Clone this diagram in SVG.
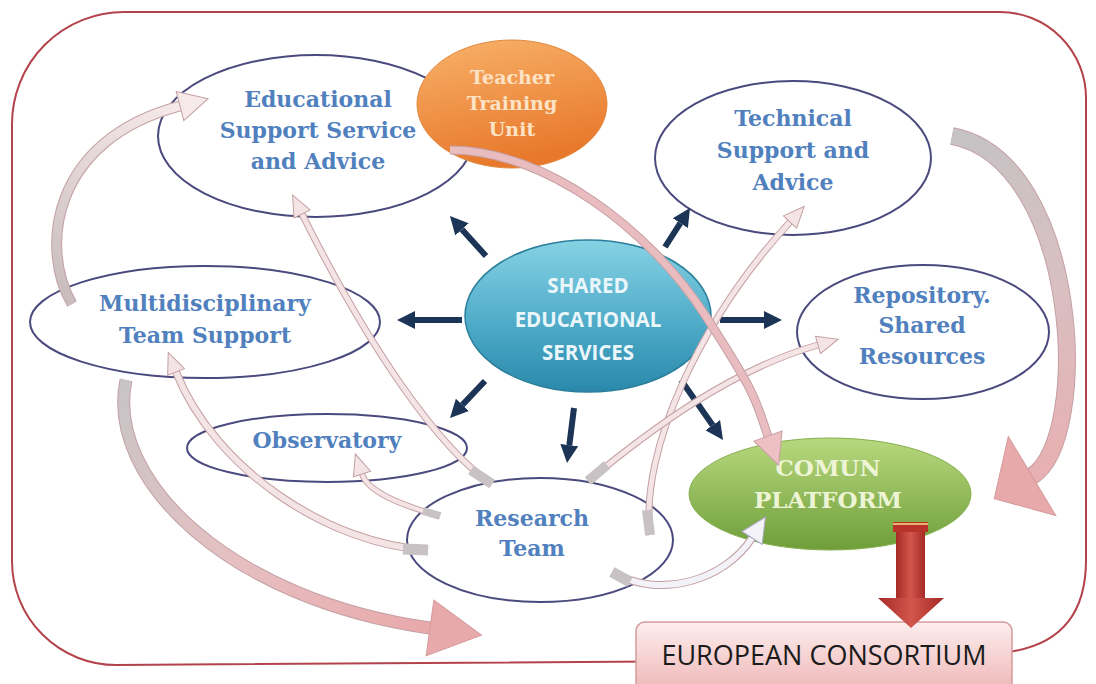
<svg xmlns="http://www.w3.org/2000/svg" width="1096" height="684" viewBox="0 0 1096 684">
<defs>
<style>
.nd{fill:none;stroke:#4b4a7e;stroke-width:2}
.lb{font-family:"DejaVu Serif","Liberation Serif",serif;font-weight:bold;font-size:22px;fill:#5080bd;text-anchor:middle}
.nv{fill:none;stroke:#1c3557;stroke-width:6;marker-end:url(#mn)}
.o{fill:none;stroke:#c4a0a4;stroke-linecap:butt}
.i{fill:none;stroke-linecap:butt}
.tl{fill:none;stroke:#c8c2c4;stroke-linecap:butt}
</style>
<linearGradient id="gOr" x1="0" y1="0" x2="0.3" y2="1"><stop offset="0" stop-color="#f8b26a"/><stop offset="1" stop-color="#e8792c"/></linearGradient>
<linearGradient id="gTe" x1="0" y1="0" x2="0" y2="1"><stop offset="0" stop-color="#86d2e4"/><stop offset="0.6" stop-color="#4aa8c6"/><stop offset="1" stop-color="#2a88aa"/></linearGradient>
<linearGradient id="gGr" x1="0" y1="0" x2="0" y2="1"><stop offset="0" stop-color="#b8d87e"/><stop offset="1" stop-color="#6e9e3a"/></linearGradient>
<linearGradient id="gEu" x1="0" y1="0" x2="0" y2="1"><stop offset="0" stop-color="#fdeeee"/><stop offset="1" stop-color="#efb6b6"/></linearGradient>
<linearGradient id="gRd" x1="0" y1="0" x2="1" y2="0"><stop offset="0" stop-color="#a52a26"/><stop offset="0.5" stop-color="#d2564c"/><stop offset="1" stop-color="#a52a26"/></linearGradient>
<linearGradient id="gA" gradientUnits="userSpaceOnUse" x1="72" y1="304" x2="180" y2="106"><stop offset="0" stop-color="#c9bcbe"/><stop offset="1" stop-color="#f5e9ea"/></linearGradient>
<linearGradient id="gD" gradientUnits="userSpaceOnUse" x1="126" y1="380" x2="430" y2="628"><stop offset="0" stop-color="#c8c4c6"/><stop offset="0.5" stop-color="#e6c0c2"/><stop offset="1" stop-color="#e9a9ab"/></linearGradient>
<linearGradient id="gJ" gradientUnits="userSpaceOnUse" x1="950" y1="138" x2="1030" y2="478"><stop offset="0" stop-color="#c6c2c4"/><stop offset="0.45" stop-color="#d8c0c2"/><stop offset="1" stop-color="#e8b0b2"/></linearGradient>
<marker id="mn" viewBox="0 -10 19 20" refX="0" refY="0" markerWidth="19" markerHeight="20" orient="auto" markerUnits="userSpaceOnUse"><path d="M0,-9 L18,0 L0,9 Z" fill="#1c3557"/></marker>
<marker id="mSm" viewBox="-1 -11 24 22" refX="0" refY="0" markerWidth="24" markerHeight="22" orient="auto" markerUnits="userSpaceOnUse" overflow="visible"><path d="M0,-9 L21,0 L0,9 Z" fill="#f5e4e6" stroke="#c4a0a4" stroke-width="1"/></marker>
<marker id="mLt" viewBox="-1 -16 32 32" refX="0" refY="0" markerWidth="32" markerHeight="32" orient="auto" markerUnits="userSpaceOnUse" overflow="visible"><path d="M0,-15 L29,0 L0,15 Z" fill="#f5e9ea" stroke="#c4a0a4" stroke-width="1"/></marker>
<marker id="mPk" viewBox="-1 -16 34 32" refX="0" refY="0" markerWidth="34" markerHeight="32" orient="auto" markerUnits="userSpaceOnUse" overflow="visible"><path d="M0,-15 L31,0 L0,15 Z" fill="#edc0c3" stroke="#c9a0a4" stroke-width="1"/></marker>
<marker id="mWh" viewBox="-1 -13 28 26" refX="0" refY="0" markerWidth="28" markerHeight="26" orient="auto" markerUnits="userSpaceOnUse" overflow="visible"><path d="M0,-12 L25,0 L0,12 Z" fill="#f2f2f8" stroke="#a6a6be" stroke-width="1"/></marker>
<marker id="mBg" viewBox="-1 -30 56 60" refX="0" refY="0" markerWidth="56" markerHeight="60" orient="auto" markerUnits="userSpaceOnUse" overflow="visible"><path d="M0,-28 L52,0 L0,28 Z" fill="#e8a9ab" stroke="#d59a9c" stroke-width="1"/></marker>
<marker id="mBj" viewBox="-1 -50 48 100" refX="0" refY="0" markerWidth="48" markerHeight="100" orient="auto" markerUnits="userSpaceOnUse" overflow="visible"><path d="M0,-46 L44,0 L0,46 Z" fill="#e8a9ab" stroke="#d59a9c" stroke-width="1"/></marker>
<path id="pa" d="M72,304 C40,250 50,140 180,106"/>
<path id="pb" d="M492,484 C440,450 370,350 302,214"/>
<path id="pc" d="M428,550 C330,545 215,470 176,372"/>
<path id="pd" d="M126,380 C105,480 230,600 430,628"/>
<path id="pe" d="M440,516 C400,505 368,492 362,474"/>
<path id="pf" d="M450,150 C545,150 650,230 705,315 S755,400 768,436"/>
<path id="pg" d="M650,535 C640,450 700,320 790,222"/>
<path id="ph" d="M588,481 C650,430 730,370 818,345"/>
<path id="pi" d="M612,572 C660,600 725,580 752,538"/>
<path id="pj" d="M952,136 C1080,160 1092,440 1032,476"/>
</defs>
<rect width="1096" height="684" fill="#ffffff"/>
<path id="frame" d="M12,124 A112,112 0 0 1 124,12 L1000,12 A86,86 0 0 1 1086,98 L1086,560 C1086,615 1060,645 1008,652 L900,660 L116,665 A104,104 0 0 1 12,561 Z" fill="none" stroke="#b3434b" stroke-width="2"/>
<g id="n-edu"><ellipse class="nd" cx="316" cy="136" rx="158" ry="81"/>
<text class="lb" x="318" y="107">Educational</text><text class="lb" x="318" y="138">Support Service</text><text class="lb" x="318" y="169">and Advice</text></g>
<g id="n-teacher"><ellipse cx="512" cy="104" rx="95" ry="64" fill="url(#gOr)" stroke="#e08a40" stroke-width="1"/>
<text class="lb" style="font-size:19px;fill:#fde3c6" x="512" y="84">Teacher</text><text class="lb" style="font-size:19px;fill:#fde3c6" x="512" y="110">Training</text><text class="lb" style="font-size:19px;fill:#fde3c6" x="512" y="136">Unit</text></g>
<g id="n-tech"><ellipse class="nd" cx="793" cy="158" rx="138" ry="77"/>
<text class="lb" x="793" y="126">Technical</text><text class="lb" x="793" y="158">Support and</text><text class="lb" x="793" y="190">Advice</text></g>
<g id="n-repo"><ellipse class="nd" cx="923" cy="332" rx="126" ry="67"/>
<text class="lb" x="922" y="303">Repository.</text><text class="lb" x="922" y="333">Shared</text><text class="lb" x="922" y="364">Resources</text></g>
<g id="n-multi"><ellipse class="nd" cx="205" cy="322" rx="175" ry="56"/>
<text class="lb" x="205" y="311">Multidisciplinary</text><text class="lb" x="205" y="343">Team Support</text></g>
<g id="n-shared"><ellipse cx="588" cy="316" rx="123" ry="76" fill="url(#gTe)" stroke="#2b7f9c" stroke-width="1.5"/>
<g style="font-family:'Open Sans','Liberation Sans',sans-serif;font-weight:bold;font-size:20.5px;fill:#eaf6fa;text-anchor:middle"><text x="588" y="293">SHARED</text><text x="588" y="327">EDUCATIONAL</text><text x="588" y="360">SERVICES</text></g></g>
<g id="n-obs"><ellipse class="nd" cx="327" cy="448" rx="140" ry="34"/>
<text class="lb" x="327" y="448">Observatory</text></g>
<g id="n-research"><ellipse class="nd" cx="540" cy="540" rx="133" ry="62"/>
<text class="lb" x="532" y="526">Research</text><text class="lb" x="532" y="556">Team</text></g>
<g id="n-comun"><ellipse cx="830" cy="494" rx="141" ry="56" fill="url(#gGr)" stroke="#86b04f" stroke-width="1"/>
<text class="lb" style="fill:#eef5d6;font-size:23px" x="828" y="476">COMUN</text><text class="lb" style="fill:#eef5d6;font-size:23px" x="828" y="508">PLATFORM</text></g>
<g id="n-euro"><rect x="636" y="622" width="376" height="70" rx="9" fill="url(#gEu)" stroke="#d59a9c" stroke-width="1.5"/>
<text x="824" y="665" style="font-family:'Open Sans','Liberation Sans',sans-serif;font-size:27px;fill:#1b1b1b;text-anchor:middle">EUROPEAN CONSORTIUM</text></g>
<g id="connectors">
<path class="nv" d="M486,256 L462,229.4"/>
<path class="nv" d="M665,247 L680.3,223.2"/>
<path class="nv" d="M462,320 L415,320"/>
<path class="nv" d="M720,320 L764,320"/>
<path class="nv" d="M485,381 L462.4,404.9"/>
<path class="nv" d="M574,408 L569.3,445.1"/>
<path class="nv" d="M681,380 L712.7,425.2"/>
<use href="#pd" class="o" stroke-width="13"/><use href="#pd" class="i" stroke="url(#gD)" stroke-width="11" marker-end="url(#mBg)"/>
<use href="#pa" class="o" stroke-width="11"/><use href="#pa" class="i" stroke="url(#gA)" stroke-width="9" marker-end="url(#mLt)"/>
<use href="#pc" class="o" stroke-width="8"/><use href="#pc" class="i" stroke="#f5e4e6" stroke-width="6" marker-end="url(#mSm)"/>
<path class="tl" d="M428,550 L403,549" stroke-width="11"/>
<use href="#pb" class="o" stroke-width="7"/><use href="#pb" class="i" stroke="#f5e4e6" stroke-width="5" marker-end="url(#mSm)"/>
<path class="tl" d="M492,484 L471,470" stroke-width="10"/>
<use href="#pe" class="o" stroke-width="6"/><use href="#pe" class="i" stroke="#f5e4e6" stroke-width="4" marker-end="url(#mSm)"/>
<path class="tl" d="M440,516 L423,511" stroke-width="8"/>
<use href="#pg" class="o" stroke-width="7"/><use href="#pg" class="i" stroke="#f5e4e6" stroke-width="5" marker-end="url(#mSm)"/>
<path class="tl" d="M650,535 L647,510" stroke-width="10"/>
<use href="#ph" class="o" stroke-width="7"/><use href="#ph" class="i" stroke="#f5e4e6" stroke-width="5" marker-end="url(#mSm)"/>
<path class="tl" d="M588,481 L607,465" stroke-width="10"/>
<use href="#pi" class="o" stroke="#a6a6be" stroke-width="8"/><use href="#pi" class="i" stroke="#f2f2f8" stroke-width="6" marker-end="url(#mWh)"/>
<path class="tl" d="M612,572 L630,582" stroke-width="11"/>
<use href="#pf" class="o" stroke="#b98a90" stroke-width="9"/><use href="#pf" class="i" stroke="#e9bcc0" stroke-width="7" marker-end="url(#mPk)"/>
<use href="#pj" class="o" stroke-width="18"/><use href="#pj" class="i" stroke="url(#gJ)" stroke-width="16" marker-end="url(#mBj)"/>
<g id="big-red-arrow">
<rect x="893" y="522" width="35" height="10" fill="#b8332a"/>
<rect x="893" y="523" width="35" height="2" fill="#e8b070"/>
<rect x="896" y="532" width="29" height="67" fill="url(#gRd)"/>
<polygon points="878,598 944,598 911,628" fill="url(#gRd)"/>
</g>
</g>
</svg>
